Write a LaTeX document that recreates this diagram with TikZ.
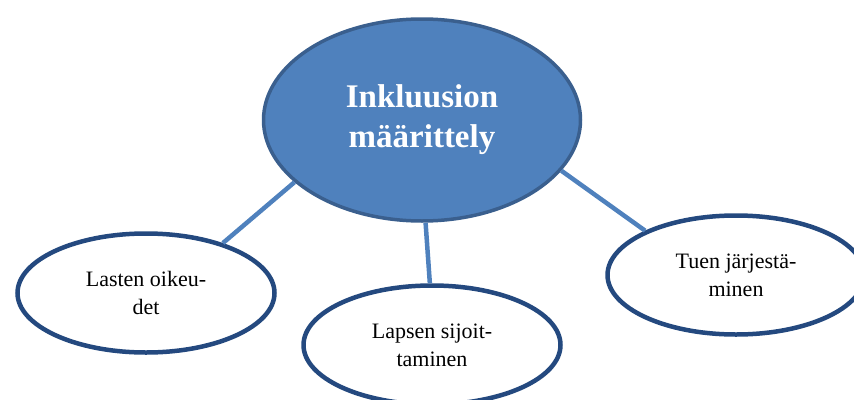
\documentclass[tikz,border=0pt]{standalone}
\usepackage{fontspec}
\setmainfont{Liberation Serif}
\usetikzlibrary{shapes.geometric}

\definecolor{hubblue}{HTML}{4F81BD}
\definecolor{hubedge}{HTML}{3A5F8E}
\definecolor{leafedge}{HTML}{24497F}

\begin{document}
\begin{tikzpicture}[x=1pt, y=-1pt,
  hub/.style={ellipse, draw=hubedge, line width=3.5pt, fill=hubblue, minimum width=317pt, minimum height=202pt, inner sep=0pt,
    text=white, font=\fontsize{33}{40}\selectfont\bfseries, align=center},
  leaf/.style={ellipse, draw=leafedge, line width=4.5pt, fill=white, minimum width=257pt, minimum height=119pt, inner sep=0pt, align=center, font=\fontsize{22}{28}\selectfont},
  link/.style={draw=hubblue, line width=4.5pt}]

  \useasboundingbox (0,0) rectangle (854,399);

  % central ellipse
  \node[hub] (main) at (422,120) {Inkluusion\\määrittely};

  % the three sub topics
  \node[leaf] (rights) at (146,293) {Lasten oikeu-\\det};
  \node[leaf] (placing) at (432,345) {Lapsen sijoit-\\taminen};
  \node[leaf] (support) at (736,275) {Tuen järjestä-\\minen};

  % connectors
  \draw[link] (main.206) -- (rights.33);
  \draw[link] (main.272) -- (placing.92);
  \draw[link] (main.-20) -- (support.154);
\end{tikzpicture}
\end{document}
